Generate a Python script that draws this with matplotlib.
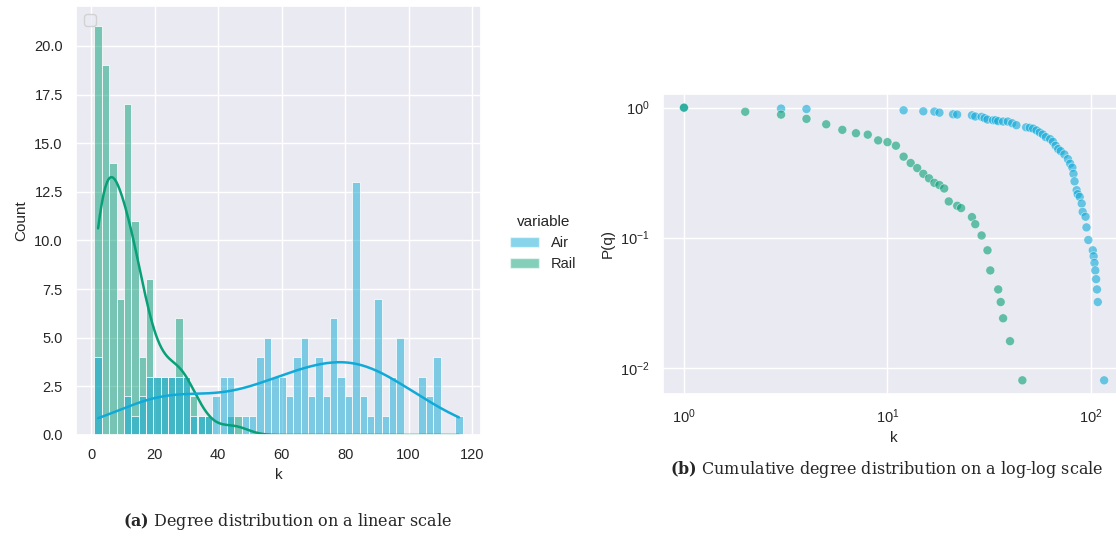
import matplotlib.pyplot as plt
import numpy as np
import pandas as pd
import seaborn as sns
from matplotlib.patches import Patch

# degree histogram: 50 equal bins over k = 1 .. 117
n_bins = 50
k_min, k_max = 1, 117
air_counts = [4, 0, 0, 0, 2, 1, 2, 3, 3, 3, 3, 3, 3, 1, 1, 1, 2, 3, 3, 0,
              1, 1, 4, 5, 3, 3, 2, 4, 5, 2, 4, 2, 6, 3, 2, 13, 2, 1, 7, 1,
              3, 5, 0, 0, 3, 2, 4, 0, 0, 1]
rail_counts = [21, 19, 14, 7, 17, 11, 4, 8, 3, 3, 3, 6, 3, 2, 1, 1, 0, 0, 1, 1,
               0, 0, 0, 0, 0, 0, 0, 0, 0, 0, 0, 0, 0, 0, 0, 0, 0, 0, 0, 0,
               0, 0, 0, 0, 0, 0, 0, 0, 0, 0]

# cumulative degree distribution P(q)
rail_k = [1, 2, 3, 4, 5, 6, 7, 8, 9, 10, 11, 12, 13, 14, 15, 16, 17, 18, 19, 20,
          22, 23, 26, 27, 29, 31, 32, 35, 36, 37, 40, 46]
rail_p = [1.0, 0.93, 0.884, 0.82, 0.745, 0.675, 0.636, 0.62, 0.56, 0.543, 0.51,
          0.42, 0.375, 0.343, 0.31, 0.286, 0.264, 0.254, 0.239, 0.19, 0.176, 0.169,
          0.144, 0.127, 0.104, 0.080, 0.056, 0.040, 0.032, 0.024, 0.016, 0.008]
air_k = [1, 3, 4, 12, 15, 17, 18, 21, 22, 26, 27, 29, 30, 31, 33, 34, 35, 37, 39,
         41, 43, 48, 50, 52, 54, 56, 58, 60, 63, 65, 67, 69, 71, 74, 77, 79, 81,
         82, 83, 85, 86, 88, 90, 91, 94, 95, 97, 102, 103, 104, 105, 106, 107, 108,
         116]
air_p = [1.0, 0.984, 0.976, 0.954, 0.937, 0.933, 0.915, 0.889, 0.885, 0.873, 0.855,
         0.85, 0.83, 0.81, 0.80, 0.80, 0.787, 0.782, 0.782, 0.759, 0.733, 0.706,
         0.70, 0.69, 0.668, 0.644, 0.622, 0.593, 0.573, 0.547, 0.51, 0.48, 0.463,
         0.437, 0.402, 0.371, 0.346, 0.31, 0.271, 0.232, 0.216, 0.206, 0.183, 0.158,
         0.145, 0.12, 0.096, 0.080, 0.072, 0.064, 0.056, 0.048, 0.040, 0.032, 0.008]

AIR = "#10aad8"
RAIL = "#08a077"
palette = {"Air": AIR, "Rail": RAIL}

sns.set_theme(style="darkgrid")
plt.rcParams["font.family"] = ["Liberation Sans", "DejaVu Sans"]
plt.rcParams["mathtext.fontset"] = "custom"
plt.rcParams["mathtext.bf"] = "DejaVu Serif:bold"

W, H = 1116, 541
fig = plt.figure(figsize=(W / 100, H / 100), dpi=100)


def px_axes(x0, y0, x1, y1):
    return fig.add_axes([x0 / W, 1 - y1 / H, (x1 - x0) / W, (y1 - y0) / H])


# (a) histogram + kde; one sample per node at its bin centre so the kde
# bandwidth matches the node count
edges = np.linspace(k_min, k_max, n_bins + 1)
centers = (edges[:-1] + edges[1:]) / 2
hist_df = pd.concat([
    pd.DataFrame({"k": np.repeat(centers, air_counts), "variable": "Air"}),
    pd.DataFrame({"k": np.repeat(centers, rail_counts), "variable": "Rail"}),
], ignore_index=True)

ax1 = px_axes(76, 6, 481, 435)
sns.histplot(data=hist_df, x="k", hue="variable", bins=n_bins,
             binrange=(k_min, k_max), kde=True, palette=palette,
             hue_order=["Air", "Rail"], ax=ax1, legend=False,
             kde_kws={"bw_adjust": 1.15}, line_kws={"linewidth": 1.8})
ax1.set_xlim(-4.8, 122.8)
ax1.set_ylim(0, 22.05)
ax1.set_xticks(np.arange(0, 121, 20))
ax1.set_yticks(np.arange(0, 21, 2.5))
ax1.set_xlabel("k", fontsize=11)
ax1.set_ylabel("Count", fontsize=11)
ax1.tick_params(labelsize=10.5)
ax1.legend(handles=[], loc="upper left")

fig.legend(handles=[Patch(facecolor=AIR, alpha=0.5, label="Air"),
                    Patch(facecolor=RAIL, alpha=0.5, label="Rail")],
           title="variable", frameon=False, loc="center left",
           bbox_to_anchor=(497 / W, 1 - 243 / H), fontsize=10.5,
           title_fontsize=11)

# (b) cumulative distribution, log-log
ax2 = px_axes(663, 94, 1125, 394)
cum_df = pd.concat([
    pd.DataFrame({"k": air_k, "P": air_p, "variable": "Air"}),
    pd.DataFrame({"k": rail_k, "P": rail_p, "variable": "Rail"}),
])
sns.scatterplot(data=cum_df, x="k", y="P", hue="variable", palette=palette,
                hue_order=["Air", "Rail"], alpha=0.6, s=42, legend=False, ax=ax2)
ax2.set_xscale("log")
ax2.set_yscale("log")
ax2.set_xlim(10 ** -0.103, 10 ** 2.167)
ax2.set_ylim(10 ** -2.202, 10 ** 0.105)
ax2.set_xlabel("k", fontsize=11)
ax2.set_ylabel("P(q)", fontsize=11)
ax2.tick_params(labelsize=10.5)

fig.text(288 / W, 1 - 522 / H, r"$\mathbf{(a)}$ Degree distribution on a linear scale",
         ha="center", va="center", family="DejaVu Serif", fontsize=11.5)
fig.text(887 / W, 1 - 470 / H,
         r"$\mathbf{(b)}$ Cumulative degree distribution on a log-log scale",
         ha="center", va="center", family="DejaVu Serif", fontsize=11.5)

fig.savefig("out.png", dpi=100)
